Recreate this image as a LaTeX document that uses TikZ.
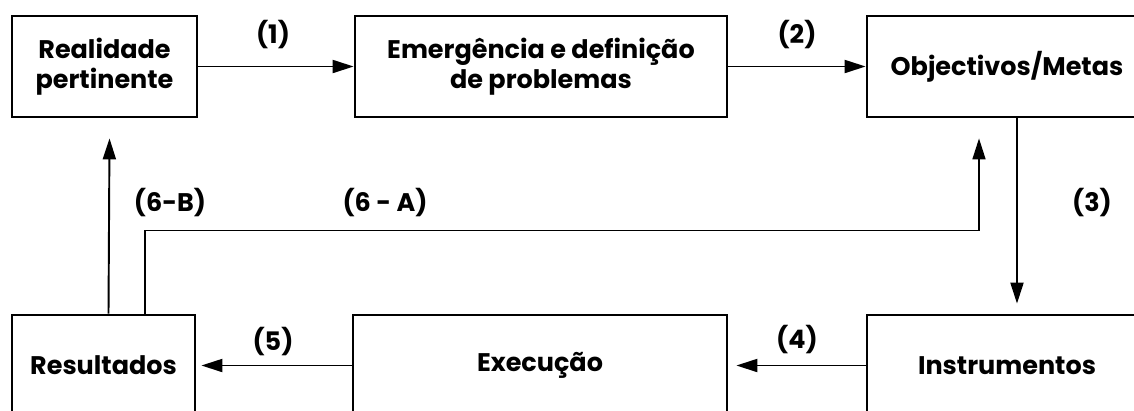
\documentclass[tikz,border=0pt]{standalone}
\usepackage{fontspec}
\setmainfont{Poppins}
\usetikzlibrary{arrows.meta}

\begin{document}
\begin{tikzpicture}[x=0.02cm, y=-0.02cm,
	every node/.style={font=\bfseries\fontsize{14.5}{17}\selectfont, align=center},
	blok/.style={rectangle, draw=black, line width=1.6pt, minimum height=2.02cm, inner sep=0pt},
	etiqueta/.style={inner sep=0pt},
	seta/.style={draw=black, line width=1.1pt, -{Triangle[length=0.42cm, width=0.26cm]}}]
			\useasboundingbox (0,0) rectangle (1134,410);
			\clip (0,0) rectangle (1134,410);
			\node[blok, minimum width=3.7cm] (real) at (104.5,66.5){Realidade\\pertinente};
			\node[blok, minimum width=7.44cm] (emerg) at (541,66.5){Emergência e definição\\de problemas};
			\node[blok, minimum width=5.6cm] (obj) at (1007,66.5){Objectivos/Metas};
			\node[blok, minimum width=3.66cm] (result) at (103.5,365.5){Resultados};
			\node[blok, minimum width=7.48cm] (exec) at (540,365.5){Execução};
			\node[blok, minimum width=5.6cm] (instr) at (1007,365.5){Instrumentos};
			\node[etiqueta] (n1) at (273,35){(1)};
			\node[etiqueta] (n2) at (797,35){(2)};
			\node[etiqueta] (n3) at (1092,203){(3)};
			\node[etiqueta] (n4) at (797,340){(4)};
			\node[etiqueta] (n5) at (273,342){(5)};
			\node[etiqueta] (n6b) at (170,203){(6-B)};
			\node[etiqueta] (n6a) at (385,203){(6 - A)};
			
			\path[seta] (real.east) -- (emerg.west);
			\path[seta] (emerg.east) -- (obj.west);
			\path[seta] ([xshift=0.2cm]obj.south) -- ([xshift=0.2cm, yshift=0.2cm]instr.north);
			\path[seta] (instr.west) -- ([xshift=0.16cm]exec.east);
			\path[seta] (exec.west) -- ([xshift=0.1cm]result.east);
			\path[seta] ([xshift=0.1cm]result.north) -- ([xshift=0.1cm, yshift=-0.4cm]real.south);
			\path[seta, line width=0.9pt] ([xshift=0.83cm]result.north) -- ++(0,-83) -| ([xshift=-0.56cm, yshift=-0.4cm]obj.south);
\end{tikzpicture}
\end{document}
